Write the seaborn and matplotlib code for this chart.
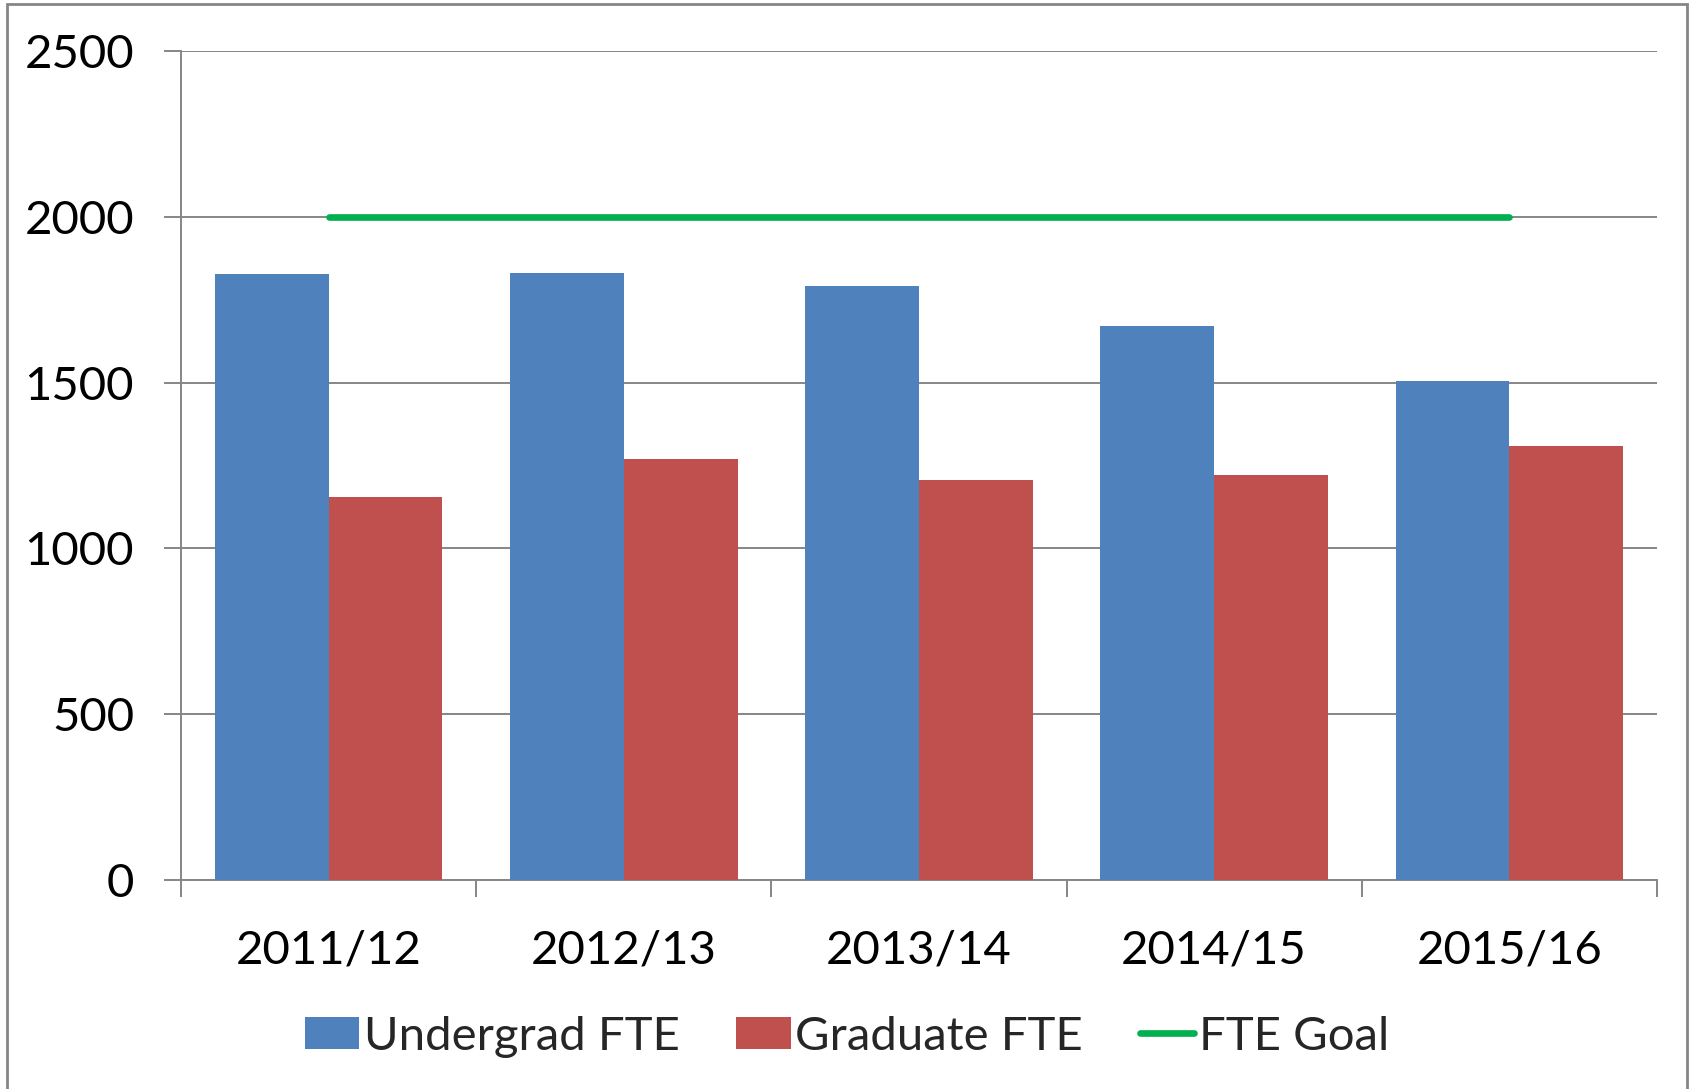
import numpy as np
import pandas as pd
import matplotlib
matplotlib.use("Agg")
import matplotlib.pyplot as plt
import seaborn as sns
from matplotlib.patches import Patch, Rectangle
from matplotlib.lines import Line2D
from matplotlib.ticker import FixedLocator

categories = ["2011/12", "2012/13", "2013/14", "2014/15", "2015/16"]
undergrad = [1827, 1831, 1791, 1672, 1505]
graduate = [1154, 1270, 1207, 1220, 1309]
goal = [2000, 2000, 2000, 2000, 2000]
series_names = ["Undergrad FTE", "Graduate FTE", "FTE Goal"]
yticks = [0, 500, 1000, 1500, 2000, 2500]

sns.set_theme(style="white")
plt.rcParams["font.family"] = ["Lato", "DejaVu Sans"]

BLUE = "#4F81BD"
RED = "#C0504D"
GREEN = "#00B050"
GRAY = "#868686"
FS = 34

df = pd.DataFrame({
    "Year": categories * 2,
    "Series": [series_names[0]] * len(categories) + [series_names[1]] * len(categories),
    "Value": undergrad + graduate,
})

fig = plt.figure(figsize=(16.94, 10.89), dpi=100)
ax = fig.add_axes([0.107, 0.192, 0.871, 0.761])

sns.barplot(data=df, x="Year", y="Value", hue="Series", order=categories,
            hue_order=series_names[:2], palette=[BLUE, RED], width=0.77,
            saturation=1, ax=ax, legend=False, linewidth=0, zorder=3)

sns.lineplot(x=np.arange(len(categories)), y=goal, color=GREEN, linewidth=4.8,
             ax=ax, zorder=4, solid_capstyle="round")

ax.set_xlim(-0.5, len(categories) - 0.5)
ax.set_ylim(0, 2500)
ax.set_yticks(yticks)
ax.set_yticklabels([str(v) for v in yticks])
ax.set_xlabel("")
ax.set_ylabel("")
ax.yaxis.grid(True, color=GRAY, linewidth=1.4, zorder=0)
ax.set_axisbelow(True)

for s in ["top", "right"]:
    ax.spines[s].set_visible(False)
for s in ["left", "bottom"]:
    ax.spines[s].set_color(GRAY)
    ax.spines[s].set_linewidth(1.4)

ax.tick_params(axis="y", which="major", left=True, length=12, width=1.4,
               color=GRAY, labelsize=FS, pad=22, labelcolor="black")
ax.tick_params(axis="x", which="major", bottom=False, length=0,
               labelsize=FS, pad=36, labelcolor="black")
ax.xaxis.set_minor_locator(FixedLocator(np.arange(-0.5, len(categories), 1.0)))
ax.tick_params(axis="x", which="minor", bottom=True, length=12, width=1.4,
               color=GRAY)

handles = [
    Patch(facecolor=BLUE, edgecolor="none"),
    Patch(facecolor=RED, edgecolor="none"),
    Line2D([0], [0], color=GREEN, linewidth=4.8, solid_capstyle="round"),
]
fig.legend(handles, series_names, loc="center", bbox_to_anchor=(0.5, 0.048),
           ncol=3, frameon=False, fontsize=FS, handlelength=1.15,
           handleheight=0.68, handletextpad=0.1, columnspacing=1.2)

fig.patches.append(Rectangle((0.004, -0.05), 0.992, 1.046, transform=fig.transFigure,
                             fill=False, edgecolor=GRAY, linewidth=2))

fig.savefig("out.png", dpi=100, facecolor="white")
